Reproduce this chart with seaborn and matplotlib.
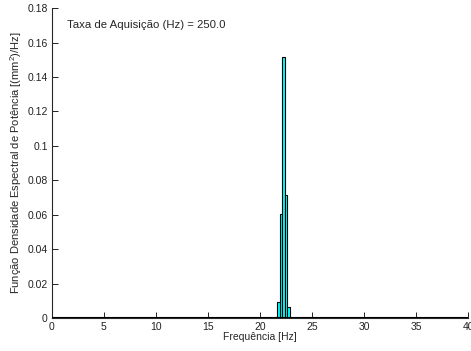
import numpy as np
import pandas as pd
import seaborn as sns
import matplotlib
matplotlib.use("Agg")
import matplotlib.pyplot as plt

# PSD bins around the peak (0.25 Hz resolution), everything else ~0
freq = [21.25, 21.5, 21.75, 22.0, 22.25, 22.5, 22.75, 23.0]
psd = [0.0, 0.0005, 0.0092, 0.0605, 0.1515, 0.0715, 0.0065, 0.0]
fs = 250.0
xticks = [0, 5, 10, 15, 20, 25, 30, 35, 40]
yticks = [0, 0.02, 0.04, 0.06, 0.08, 0.1, 0.12, 0.14, 0.16, 0.18]

sns.set_style("ticks")
plt.rcParams['font.family'] = ['Liberation Sans', 'DejaVu Sans']
plt.rcParams['mathtext.fontset'] = 'custom'
plt.rcParams['mathtext.rm'] = 'Liberation Sans'

df = pd.DataFrame({'freq': freq, 'psd': psd})

fig = plt.figure(figsize=(4.71, 3.51), dpi=100)
ax = fig.add_axes([0.110, 0.094, 0.884, 0.883])

sns.barplot(data=df, x='freq', y='psd', native_scale=True, width=1.0,
            color='cyan', saturation=1, edgecolor='black', linewidth=0.8,
            errorbar=None, ax=ax)

ax.axhline(0, color='black', lw=1.5, zorder=5)
ax.set_xlim(0, 40)
ax.set_ylim(0, 0.18)
ax.set_xticks(xticks)
ax.set_xticklabels([str(t) for t in xticks])
ax.set_yticks(yticks)
ax.set_yticklabels(['0', '0.02', '0.04', '0.06', '0.08', '0.1', '0.12', '0.14', '0.16', '0.18'])
ax.tick_params(direction='in', length=4, width=0.7, labelsize=7.5, colors='#222222', pad=3)
for s in ['top', 'right']:
    ax.spines[s].set_visible(False)
for s in ['left', 'bottom']:
    ax.spines[s].set_linewidth(0.8)

ax.set_xlabel('Frequência [Hz]', fontsize=7.5, labelpad=0)
ax.set_ylabel('Função Densidade Espectral de Potência [(mm$^2$)/Hz]', fontsize=8, labelpad=2)

ax.text(0.036, 0.945, 'Taxa de Aquisição (Hz) = %.1f' % fs, transform=ax.transAxes,
        fontsize=8.2, va='center', ha='left')

fig.savefig('out.png', dpi=100)
